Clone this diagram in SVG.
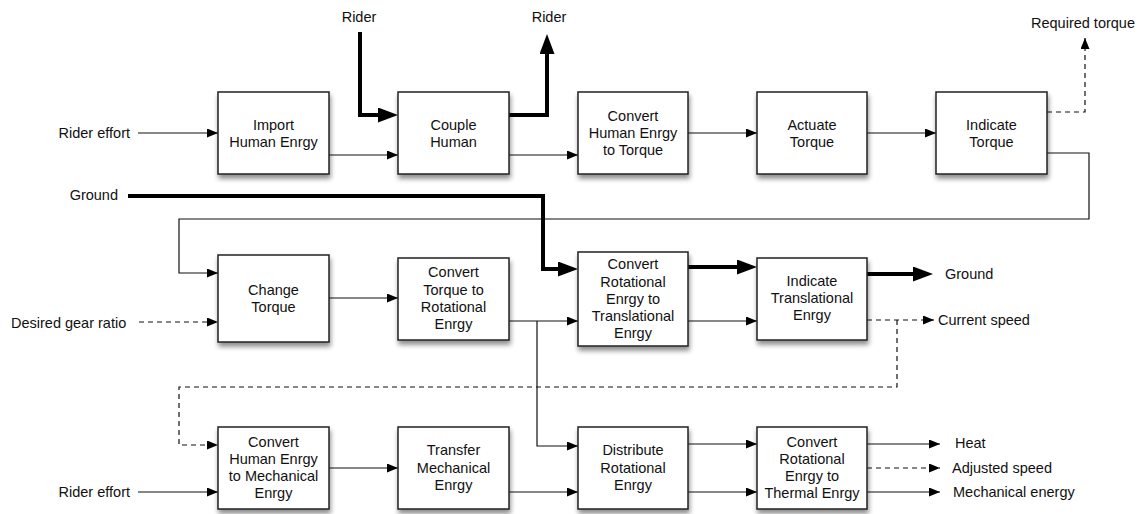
<svg xmlns="http://www.w3.org/2000/svg" width="1142" height="514" viewBox="0 0 1142 514">
  <defs>
    <style>
      .box rect { fill: #fff; stroke: #222; stroke-width: 1.5; filter: url(#shadow); }
      text { font-family: "Liberation Sans", Arial, Helvetica, sans-serif; font-size: 14.5px; fill: #111; }
      .box text { text-anchor: middle; }
      .end { text-anchor: end; }
      .thin { fill: none; stroke: #111; stroke-width: 1.2; marker-end: url(#arrow); }
      .dash { fill: none; stroke: #111; stroke-width: 1.2; stroke-dasharray: 5 4; }
      .dash.arr { marker-end: url(#arrow); }
      .thick { fill: none; stroke: #000; stroke-width: 4; stroke-linejoin: miter; marker-end: url(#bigarrow); }
    </style>
    <filter id="shadow" x="-20%" y="-20%" width="140%" height="150%">
      <feGaussianBlur in="SourceAlpha" stdDeviation="2.5"/>
      <feOffset dx="1" dy="4" result="b"/>
      <feComponentTransfer><feFuncA type="linear" slope="0.45"/></feComponentTransfer>
      <feMerge><feMergeNode/><feMergeNode in="SourceGraphic"/></feMerge>
    </filter>
    <marker id="arrow" viewBox="0 0 11 9" refX="11" refY="4.5" markerWidth="11" markerHeight="9" markerUnits="userSpaceOnUse" orient="auto">
      <path d="M0,0 L11,4.5 L0,9 z" fill="#000"/>
    </marker>
    <marker id="bigarrow" viewBox="0 0 20 15" refX="1" refY="7.5" markerWidth="20" markerHeight="15" markerUnits="userSpaceOnUse" orient="auto">
      <path d="M0,0 L20,7.5 L0,15 z" fill="#000"/>
    </marker>
  </defs>
  <rect width="1142" height="514" fill="#fff"/>

  <!-- Connectors -->
  <g id="connectors">
    <!-- top row -->
    <path class="thin" d="M138,133 H218"/>
    <path class="thick" d="M360,32 V115 H379"/>
    <path class="thick" d="M509,115 H547 V53"/>
    <path class="thin" d="M329,155 H398"/>
    <path class="thin" d="M509,155 H578"/>
    <path class="thin" d="M688,133 H757"/>
    <path class="thin" d="M867,133 H936"/>
    <path class="dash arr" d="M1047,112 H1085 V38"/>
    <path class="thin" d="M1047,153 H1089 V219 H179 V273 H218"/>
    <!-- middle row -->
    <path class="thick" d="M128,196 H543 V269 H559"/>
    <path class="dash arr" d="M139,322 H218"/>
    <path class="thin" d="M329,298 H398"/>
    <path class="thin" d="M509,321 H578"/>
    <path class="thin" d="M537,321 V446 H578"/>
    <path class="thick" d="M688,267 H738"/>
    <path class="thin" d="M688,321 H757"/>
    <path class="thick" d="M867,274 H914"/>
    <path class="dash arr" d="M867,320 H934"/>
    <path class="dash arr" d="M897,320 V387 H179 V445 H218"/>
    <!-- bottom row -->
    <path class="thin" d="M138,492 H218"/>
    <path class="thin" d="M329,468 H398"/>
    <path class="thin" d="M509,492 H578"/>
    <path class="thin" d="M688,444 H757"/>
    <path class="thin" d="M688,492 H757"/>
    <path class="thin" d="M867,444 H940"/>
    <path class="dash arr" d="M867,468 H940"/>
    <path class="thin" d="M867,492 H940"/>
  </g>

  <!-- External labels -->
  <g id="labels">
    <text class="end" x="130" y="138">Rider effort</text>
    <text x="359" y="22" text-anchor="middle">Rider</text>
    <text x="549" y="22" text-anchor="middle">Rider</text>
    <text x="1031" y="28">Required torque</text>
    <text class="end" x="118" y="200">Ground</text>
    <text x="11" y="328">Desired gear ratio</text>
    <text x="945" y="279">Ground</text>
    <text x="938" y="325">Current speed</text>
    <text class="end" x="130" y="497">Rider effort</text>
    <text x="955" y="448">Heat</text>
    <text x="952" y="473">Adjusted speed</text>
    <text x="953" y="497">Mechanical energy</text>
  </g>

  <!-- Top row -->
  <g id="import-human-energy" class="box">
    <rect x="218" y="92" width="111" height="82"/>
    <text x="273.5" y="129.5">Import</text>
    <text x="273.5" y="146.5">Human Enrgy</text>
  </g>
  <g id="couple-human" class="box">
    <rect x="398" y="92" width="111" height="82"/>
    <text x="453.5" y="129.5">Couple</text>
    <text x="453.5" y="146.5">Human</text>
  </g>
  <g id="convert-human-torque" class="box">
    <rect x="578" y="92" width="110" height="82"/>
    <text x="633" y="121">Convert</text>
    <text x="633" y="138">Human Enrgy</text>
    <text x="633" y="155">to Torque</text>
  </g>
  <g id="actuate-torque" class="box">
    <rect x="757" y="92" width="110" height="82"/>
    <text x="812" y="129.5">Actuate</text>
    <text x="812" y="146.5">Torque</text>
  </g>
  <g id="indicate-torque" class="box">
    <rect x="936" y="92" width="111" height="82"/>
    <text x="991.5" y="129.5">Indicate</text>
    <text x="991.5" y="146.5">Torque</text>
  </g>

  <!-- Middle row -->
  <g id="change-torque" class="box">
    <rect x="218" y="255" width="111" height="87"/>
    <text x="273.5" y="295">Change</text>
    <text x="273.5" y="312">Torque</text>
  </g>
  <g id="convert-torque-rotational" class="box">
    <rect x="398" y="258" width="111" height="82"/>
    <text x="453.5" y="277">Convert</text>
    <text x="453.5" y="294.5">Torque to</text>
    <text x="453.5" y="312">Rotational</text>
    <text x="453.5" y="329">Enrgy</text>
  </g>
  <g id="convert-rotational-translational" class="box">
    <rect x="578" y="252" width="110" height="94"/>
    <text x="633" y="269">Convert</text>
    <text x="633" y="286.5">Rotational</text>
    <text x="633" y="303.5">Enrgy to</text>
    <text x="633" y="321">Translational</text>
    <text x="633" y="338">Enrgy</text>
  </g>
  <g id="indicate-translational" class="box">
    <rect x="757" y="258" width="110" height="82"/>
    <text x="812" y="286">Indicate</text>
    <text x="812" y="303">Translational</text>
    <text x="812" y="320">Enrgy</text>
  </g>

  <!-- Bottom row -->
  <g id="convert-human-mechanical" class="box">
    <rect x="218" y="427" width="111" height="82"/>
    <text x="273.5" y="447">Convert</text>
    <text x="273.5" y="464">Human Enrgy</text>
    <text x="273.5" y="481">to Mechanical</text>
    <text x="273.5" y="498">Enrgy</text>
  </g>
  <g id="transfer-mechanical" class="box">
    <rect x="398" y="427" width="111" height="82"/>
    <text x="453.5" y="455">Transfer</text>
    <text x="453.5" y="472.5">Mechanical</text>
    <text x="453.5" y="490">Enrgy</text>
  </g>
  <g id="distribute-rotational" class="box">
    <rect x="578" y="427" width="110" height="82"/>
    <text x="633" y="455">Distribute</text>
    <text x="633" y="472.5">Rotational</text>
    <text x="633" y="490">Enrgy</text>
  </g>
  <g id="convert-rotational-thermal" class="box">
    <rect x="757" y="427" width="110" height="82"/>
    <text x="812" y="447">Convert</text>
    <text x="812" y="464">Rotational</text>
    <text x="812" y="481">Enrgy to</text>
    <text x="812" y="498">Thermal Enrgy</text>
  </g>
</svg>
